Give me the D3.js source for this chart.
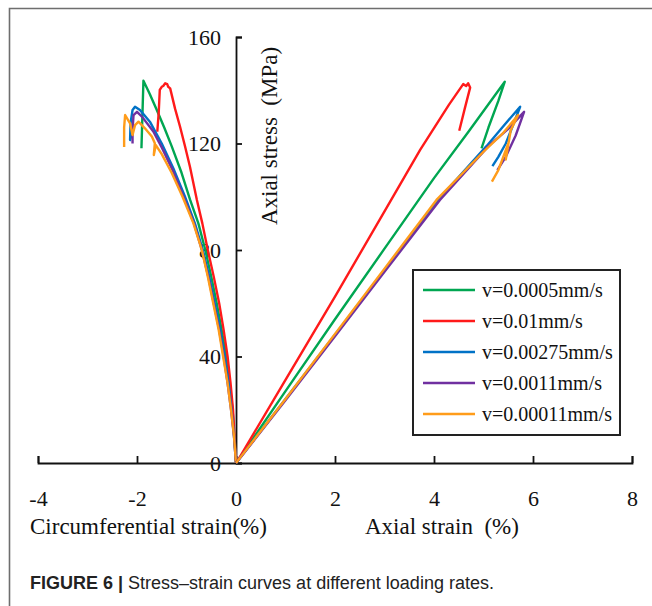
<!DOCTYPE html>
<html>
<head>
<meta charset="utf-8">
<script src="https://cdn.jsdelivr.net/npm/d3@7"></script>
<style>
  body { margin: 0; background: #fff; }
  svg { display: block; }
</style>
</head>
<body>
<div id="chart"></div>
<script>
// legend labels and colours
const rates = ['v=0.0005mm/s', 'v=0.01mm/s', 'v=0.00275mm/s', 'v=0.0011mm/s', 'v=0.00011mm/s'];
const colors = ['#00a651', '#ff1a1a', '#0072c6', '#7030a0', '#ff9c1a'];

const xTicks = [-4, -2, 0, 2, 4, 6, 8];
const yTicks = [0, 40, 80, 120, 160];

// circumferential strain (%) vs stress (MPa)
const circGreen = [[0,0],[-0.03,10],[-0.07,20],[-0.13,30],[-0.2,40],[-0.29,50],[-0.39,60],[-0.5,70],[-0.62,80],[-0.76,90],[-0.93,99],[-1.1,109],[-1.3,119],[-1.45,126],[-1.6,132.6],[-1.74,138.5],[-1.87,143.6],[-1.89,131],[-1.91,118.2]];
const circRed = [[0,0],[-0.03,10],[-0.06,20],[-0.11,30],[-0.17,40],[-0.25,50],[-0.34,60],[-0.45,70],[-0.57,80],[-0.68,90],[-0.79,98.8],[-0.93,111.3],[-1.03,119],[-1.13,126.3],[-1.23,133],[-1.33,140.7],[-1.37,141.3],[-1.39,142.3],[-1.43,142.6],[-1.47,141.6],[-1.5,141.3],[-1.54,140.1],[-1.56,132],[-1.59,124.4]];
const circBlue = [[0,0],[-0.04,10],[-0.09,20],[-0.15,30],[-0.23,40],[-0.32,50],[-0.43,60],[-0.54,70],[-0.67,80],[-0.83,90],[-1.03,100],[-1.25,110],[-1.5,120],[-1.74,128.2],[-1.94,132.6],[-2.04,133.8],[-2.09,132.6],[-2.13,127.6],[-2.14,121.3],[-2.11,123.2]];
const circPurple = [[0,0],[-0.04,10],[-0.1,20],[-0.17,30],[-0.25,40],[-0.34,50],[-0.45,60],[-0.56,70],[-0.69,80],[-0.85,90],[-1.06,100],[-1.28,110],[-1.5,118.5],[-1.67,124.5],[-1.9,130.1],[-2.0,131.9],[-2.07,130.7],[-2.09,125],[-2.09,120]];
const circOrange = [[0,0],[-0.04,10],[-0.1,20],[-0.17,30],[-0.26,40],[-0.35,50],[-0.46,60],[-0.57,70],[-0.69,80],[-0.86,90],[-1.08,100],[-1.3,109],[-1.5,116],[-1.62,119.4],[-1.66,115.7],[-1.64,120.1],[-1.7,122.6],[-1.84,125.7],[-1.97,128.2],[-2.04,126.9],[-2.09,123.2],[-2.14,127.6],[-2.24,130.7],[-2.26,126],[-2.26,118.7]];

// axial strain (%) vs stress (MPa)
const axGreen = [[0,0],[0.1,2.6],[1,27],[2,54],[3,80.5],[4,107],[4.7,124.5],[5.43,143.2],[5.3,136],[5.1,126],[4.96,118.2]];
const axRed = [[0,0],[0.1,3],[1,31.2],[2,62.5],[3,94.5],[3.72,117.6],[4.3,134.5],[4.59,142.3],[4.65,141.6],[4.69,142.6],[4.73,141],[4.62,133],[4.51,124.8]];
const axBlue = [[0,0],[0.1,2.4],[1,24],[2,48.2],[3,72.5],[4.08,98.8],[5.06,119],[5.4,126.5],[5.74,133.8],[5.62,128],[5.45,120],[5.3,115],[5.18,111.5]];
const axPurple = [[0,0],[0.1,2.3],[1,23.6],[2,47.6],[3,71.8],[4.12,98.8],[5.1,119],[5.5,125.5],[5.82,131.9],[5.65,123],[5.45,115],[5.28,110]];
const axOrange = [[0,0],[0.1,2.4],[1,24],[2,48.5],[3,73],[4.05,98.8],[5.0,116.9],[5.4,124],[5.7,130.7],[5.55,125],[5.45,114],[5.5,120],[5.3,110],[5.17,105.7]];

const circData = [circGreen, circRed, circBlue, circPurple, circOrange];
const axData = [axGreen, axRed, axBlue, axPurple, axOrange];

const width = 652;
const height = 606;

const svg = d3.select('#chart')
  .append('svg')
  .attr('width', width)
  .attr('height', height);

// outer frame (top and left edges only)
svg.append('path')
  .attr('d', `M9.5,${height} V8.5 H${width}`)
  .attr('fill', 'none')
  .attr('stroke', '#6e6e6e')
  .attr('stroke-width', 1.6);

const x = d3.scaleLinear().domain([-4, 8]).range([38, 632]);
const y = d3.scaleLinear().domain([0, 160]).range([463, 37]);

const serif = '"Liberation Serif", "Times New Roman", serif';

// x axis, ticks pointing up
const xAxis = svg.append('g')
  .attr('transform', `translate(0,${y(0)})`)
  .call(d3.axisBottom(x).tickValues(xTicks).tickSize(-7).tickSizeOuter(-7).tickPadding(27).tickFormat(d3.format('d')));

// y axis at zero, ticks pointing right, labels left
const yAxis = svg.append('g')
  .attr('transform', `translate(${x(0)},0)`)
  .call(d3.axisLeft(y).tickValues(yTicks).tickSize(-6).tickSizeOuter(-6).tickPadding(15));

[xAxis, yAxis].forEach(g => {
  g.selectAll('path, line').attr('stroke', '#111').attr('stroke-width', 1.8);
  g.selectAll('text')
    .attr('fill', '#111')
    .style('font-family', serif)
    .style('font-size', '22px');
});
xAxis.selectAll('text').text(d => d < 0 ? '-' + Math.abs(d) : d);

const line = d3.line()
  .x(d => x(d[0]))
  .y(d => y(d[1]));

circData.forEach((pts, i) => {
  svg.append('path')
    .attr('d', line(pts))
    .attr('fill', 'none')
    .attr('stroke', colors[i])
    .attr('stroke-width', 2.4)
    .attr('stroke-linejoin', 'round');
});

axData.forEach((pts, i) => {
  svg.append('path')
    .attr('d', line(pts))
    .attr('fill', 'none')
    .attr('stroke', colors[i])
    .attr('stroke-width', 2.4)
    .attr('stroke-linejoin', 'round');
});

// axis titles
svg.append('text')
  .attr('transform', `translate(${x(0) + 33},136) rotate(-90)`)
  .attr('text-anchor', 'middle')
  .attr('dy', '0.35em')
  .style('font-family', serif)
  .style('font-size', '23px')
  .style('white-space', 'pre')
  .attr('fill', '#111')
  .text('Axial stress  (MPa)');

svg.append('text')
  .attr('x', 30)
  .attr('y', 534)
  .style('font-family', serif)
  .style('font-size', '23px')
  .attr('fill', '#111')
  .text('Circumferential strain(%)');

svg.append('text')
  .attr('x', 365)
  .attr('y', 534)
  .style('font-family', serif)
  .style('font-size', '23px')
  .style('white-space', 'pre')
  .attr('fill', '#111')
  .text('Axial strain  (%)');

// legend
const legend = svg.append('g');
legend.append('rect')
  .attr('x', 413)
  .attr('y', 270)
  .attr('width', 207)
  .attr('height', 165)
  .attr('fill', '#fff')
  .attr('stroke', '#222')
  .attr('stroke-width', 2);

rates.forEach((r, i) => {
  const ly = 290 + i * 31;
  legend.append('line')
    .attr('x1', 423).attr('x2', 475)
    .attr('y1', ly).attr('y2', ly)
    .attr('stroke', colors[i])
    .attr('stroke-width', 2.3);
  legend.append('text')
    .attr('x', 482)
    .attr('y', ly)
    .attr('dy', '0.35em')
    .style('font-family', serif)
    .style('font-size', '20px')
    .attr('fill', '#111')
    .text(r);
});

// caption
const cap = svg.append('text')
  .attr('x', 30)
  .attr('y', 589)
  .style('font-family', '"Liberation Sans", Arial, sans-serif')
  .style('font-size', '18px')
  .attr('fill', '#222');
cap.append('tspan').attr('font-weight', 'bold').text('FIGURE 6 | ');
cap.append('tspan').text('Stress\u2013strain curves at different loading rates.');
</script>
</body>
</html>
